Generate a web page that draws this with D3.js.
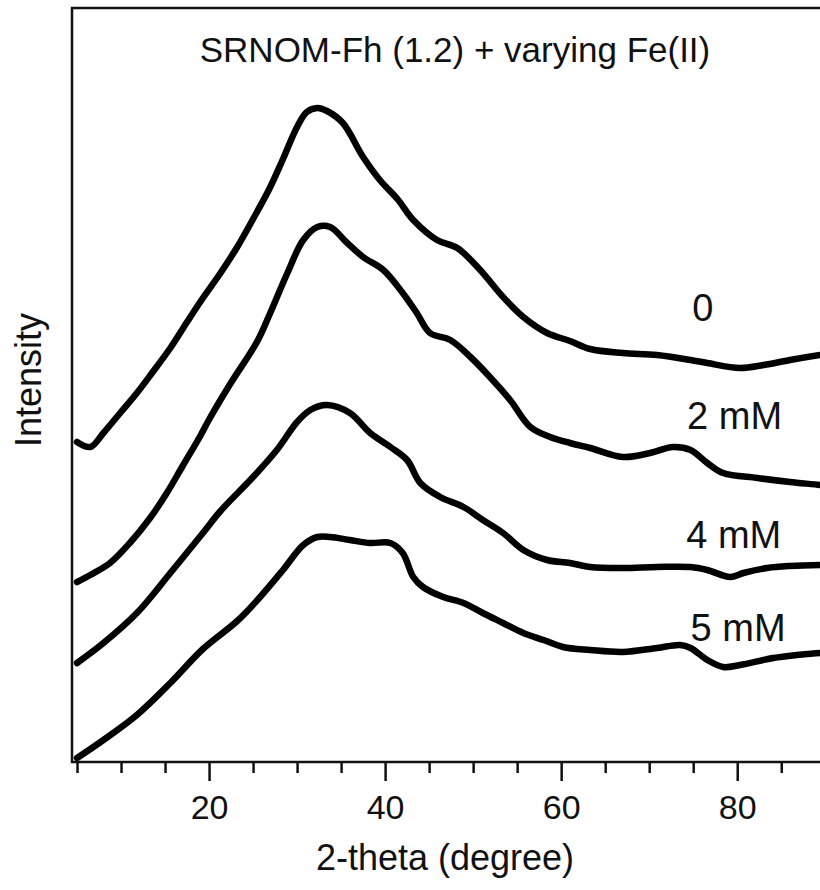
<!DOCTYPE html>
<html>
<head>
<meta charset="utf-8">
<script src="https://cdn.jsdelivr.net/npm/d3@7/dist/d3.min.js"></script>
<style>
  html, body { margin: 0; padding: 0; background: #fff; }
  svg { display: block; }
  text { font-family: "Liberation Sans", Arial, sans-serif; fill: #111; }
</style>
</head>
<body>
<svg id="chart" width="820" height="890"></svg>
<script>
// ---- data (2-theta in degrees, intensity in arbitrary offset units) ----
const title = "SRNOM-Fh (1.2) + varying Fe(II)";
const xLabel = "2-theta (degree)";
const yLabel = "Intensity";
const seriesNames = ["0", "2 mM", "4 mM", "5 mM"];

const theta0 = [5.0, 6.5, 8.0, 9.9, 11.8, 13.6, 15.6, 17.5, 19.3, 21.3, 23.2, 25.0, 26.9, 28.4, 30.0, 31.1, 32.3, 33.4, 35.2, 37.5, 39.4, 41.4, 43.2, 45.9, 48.2, 50.8, 53.4, 55.7, 58.4, 61.0, 63.3, 67.0, 70.9, 74.7, 76.6, 80.3, 83.0, 86.0, 89.4, 90.2];
const int0   = [320, 315, 329, 349, 369, 390, 414, 440, 464, 489, 515, 543, 574, 603, 635, 650, 654, 651, 639, 605, 582, 563, 542, 522, 514, 492, 465, 445, 429, 421, 413, 409, 407, 402, 399, 394, 397, 402, 407, 408];

const theta2 = [5.0, 6.5, 8.75, 11.0, 13.3, 15.2, 17.0, 19.0, 20.1, 22.4, 25.5, 26.9, 28.9, 30.7, 32.3, 33.75, 35.7, 37.5, 39.8, 42.0, 43.6, 45.1, 47.4, 49.7, 51.9, 54.2, 56.5, 58.75, 61.0, 63.3, 67.0, 70.1, 72.7, 74.7, 76.6, 78.4, 82.3, 86.0, 89.4, 90.2];
const int2   = [180, 187, 199, 219, 244, 269, 296, 326, 344, 378, 421, 448, 489, 522, 535, 535, 519, 505, 492, 469, 449, 429, 422, 405, 385, 362, 335, 325, 319, 314, 305, 309, 315, 312, 299, 289, 284, 280, 277, 276];

const theta4 = [5.0, 8.0, 11.8, 15.6, 19.3, 21.3, 25.0, 27.7, 30.0, 31.5, 33.4, 36.0, 38.3, 40.6, 42.5, 44.0, 46.25, 48.9, 51.1, 53.4, 55.7, 58.4, 61.0, 63.3, 67.0, 70.9, 74.7, 76.6, 79.2, 80.7, 83.4, 86.0, 89.4, 90.2];
const int4   = [99, 119, 149, 189, 229, 251, 285, 312, 340, 352, 357, 349, 329, 315, 302, 279, 265, 255, 242, 229, 212, 202, 199, 195, 194, 195, 195, 192, 185, 189, 194, 196, 197, 197];

const theta5 = [5.0, 8.0, 11.8, 15.6, 19.3, 23.2, 25.5, 28.4, 30.7, 32.3, 33.75, 36.0, 38.3, 40.6, 42.0, 43.2, 44.3, 46.6, 48.9, 51.1, 53.4, 55.7, 58.0, 60.2, 63.3, 67.0, 70.9, 73.5, 74.7, 76.6, 78.4, 80.3, 84.1, 86.8, 89.4, 90.2];
const int5   = [4, 22, 47, 79, 113, 141, 162, 192, 217, 225, 225, 222, 219, 219, 209, 185, 175, 165, 159, 149, 139, 129, 122, 115, 112, 110, 114, 117, 114, 102, 95, 97, 104, 107, 109, 109];

const majorTicks = [20, 40, 60, 80];
const minorTicks = [5, 10, 15, 25, 30, 35, 45, 50, 55, 65, 70, 75, 85, 90];

const seriesX = [theta0, theta2, theta4, theta5];
const seriesY = [int0, int2, int4, int5];
// label anchor positions in data units (2-theta, intensity)
const labelTheta = [76.1, 79.7, 79.6, 80.1];
const labelInt   = [441, 333, 214, 121];

// ---- drawing ----
const svg = d3.select("#chart");
const plot = { left: 72, right: 827, top: 8, bottom: 762 };

const x = d3.scaleLinear().domain([4.43, 90.2]).range([plot.left, plot.right]);
const y = d3.scaleLinear().domain([0, 754]).range([plot.bottom, plot.top]);

const defs = svg.append("defs");
defs.append("clipPath").attr("id", "plotclip")
  .append("rect")
  .attr("x", plot.left).attr("y", plot.top)
  .attr("width", plot.right - plot.left).attr("height", plot.bottom - plot.top);

const line = d3.line()
  .x(d => x(d[0]))
  .y(d => y(d[1]))
  .curve(d3.curveCatmullRom.alpha(0.5));

const traces = svg.append("g").attr("clip-path", "url(#plotclip)");
seriesX.forEach((xs, i) => {
  const pts = xs.map((t, j) => [t, seriesY[i][j]]);
  traces.append("path")
    .datum(pts)
    .attr("d", line)
    .attr("fill", "none")
    .attr("stroke", "#000")
    .attr("stroke-width", 6.5)
    .attr("stroke-linejoin", "round")
    .attr("stroke-linecap", "round");
});

// frame
svg.append("rect")
  .attr("x", plot.left).attr("y", plot.top)
  .attr("width", plot.right - plot.left).attr("height", plot.bottom - plot.top)
  .attr("fill", "none").attr("stroke", "#111").attr("stroke-width", 2.5);

// x axis: major and minor ticks
const axMajor = svg.append("g")
  .attr("transform", `translate(0,${plot.bottom})`)
  .call(d3.axisBottom(x).tickValues(majorTicks).tickSize(19).tickPadding(14).tickFormat(d3.format("d")));
const axMinor = svg.append("g")
  .attr("transform", `translate(0,${plot.bottom})`)
  .call(d3.axisBottom(x).tickValues(minorTicks).tickSize(11).tickFormat(""));
[axMajor, axMinor].forEach(g => {
  g.select(".domain").remove();
  g.selectAll(".tick line").attr("stroke", "#111").attr("stroke-width", 2.5);
});
axMajor.selectAll(".tick text")
  .attr("fill", "#111")
  .style("font-size", "34px")
  .style("font-family", "'Liberation Sans', Arial, sans-serif");

// titles
svg.append("text")
  .attr("x", 455).attr("y", 62)
  .attr("text-anchor", "middle")
  .style("font-size", "35px")
  .text(title);

svg.append("text")
  .attr("x", 445).attr("y", 870)
  .attr("text-anchor", "middle")
  .style("font-size", "36px")
  .text(xLabel);

svg.append("text")
  .attr("transform", "translate(41,380) rotate(-90)")
  .attr("text-anchor", "middle")
  .style("font-size", "36px")
  .text(yLabel);

// series labels
seriesNames.forEach((name, i) => {
  svg.append("text")
    .attr("x", x(labelTheta[i]))
    .attr("y", y(labelInt[i]))
    .attr("text-anchor", "middle")
    .style("font-size", "38px")
    .text(name);
});
</script>
</body>
</html>
